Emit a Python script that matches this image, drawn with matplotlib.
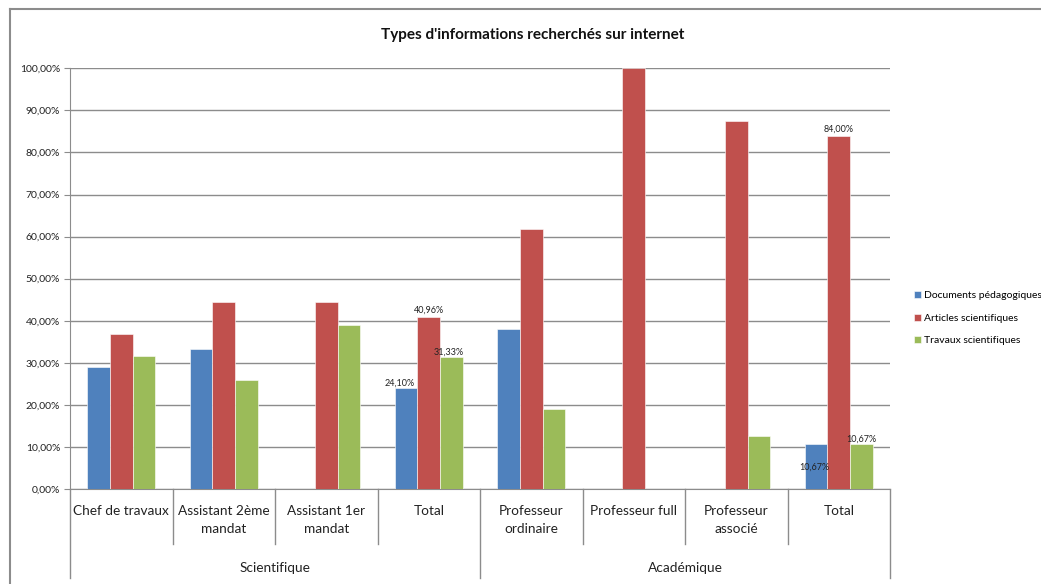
import matplotlib.pyplot as plt
from matplotlib.lines import Line2D
import numpy as np

plt.rcParams['font.family'] = ['Lato', 'DejaVu Sans']

# data
categories = ["Chef de travaux", "Assistant 2ème\nmandat", "Assistant 1er\nmandat", "Total",
              "Professeur\nordinaire", "Professeur full", "Professeur\nassocié", "Total"]
groups = ["Scientifique", "Académique"]
group_sizes = [4, 4]
series_names = ["Documents pédagogiques", "Articles scientifiques", "Travaux scientifiques"]
documents = [28.95, 33.33, 0, 24.10, 38.10, 0, 0, 10.67]
articles = [36.84, 44.44, 44.44, 40.96, 61.90, 100.0, 87.50, 84.00]
travaux = [31.58, 25.93, 38.89, 31.33, 19.05, 0, 12.50, 10.67]
colors = ["#4F81BD", "#C0504D", "#9BBB59"]

fig = plt.figure(figsize=(10.41, 5.84), dpi=100)
ax = fig.add_axes([70 / 1041, 1 - 489 / 584, 820 / 1041, 420.7 / 584])

x = np.arange(len(categories)) + 0.5
w = 0.222
all_series = [documents, articles, travaux]
bars = []
for i, vals in enumerate(all_series):
    b = ax.bar(x + (i - 1) * w, vals, width=w, color=colors[i], label=series_names[i],
               edgecolor='white', linewidth=0.4, zorder=3)
    bars.append(b)

ax.set_xlim(0, len(categories))
ax.set_ylim(0, 100)
ax.set_yticks(np.arange(0, 101, 10))
ax.set_yticklabels([("%.2f%%" % v).replace('.', ',') for v in np.arange(0, 101, 10)], fontsize=7.5, color='#222222')
ax.yaxis.grid(True, color='#8c8c8c', linewidth=1.0, zorder=0)
ax.tick_params(axis='y', length=4, color='#8c8c8c', pad=3)
ax.set_xticks([])
for s in ['top', 'right']:
    ax.spines[s].set_visible(False)
ax.spines['left'].set_color('#8c8c8c')
ax.spines['bottom'].set_color('#8c8c8c')

# data labels (only on the Total columns, as in the reference)
def lab(xv, yv, txt, dx, dy):
    ax.annotate(txt, (xv, yv), xytext=(dx, dy), textcoords='offset pixels',
                ha='center', va='bottom', fontsize=6.5, color='#222222', zorder=5)

fmt = lambda v: ("%.2f%%" % v).replace('.', ',')
lab(x[3] - w, documents[3], fmt(documents[3]), -6, 0)
lab(x[3], articles[3], fmt(articles[3]), 0, 2)
lab(x[3] + w, travaux[3], fmt(travaux[3]), -3, 1)
lab(x[7], articles[7], fmt(articles[7]), 0, 2)
lab(x[7] - w, documents[7], fmt(documents[7]), -2, -28)
lab(x[7] + w, travaux[7], fmt(travaux[7]), 0, 0)

# hierarchical category axis
tr = ax.get_xaxis_transform()
for i, c in enumerate(categories):
    ax.text(x[i], -0.038, c, transform=tr, ha='center', va='top', fontsize=9.8,
            linespacing=1.65, color='#222222')
edges = np.cumsum([0] + group_sizes)
for k in range(len(categories) + 1):
    bottom = -0.2116 if k in edges else -0.131
    ax.add_line(Line2D([k, k], [0, bottom], transform=tr, color='#8c8c8c', linewidth=1.0, clip_on=False))
for g, name in enumerate(groups):
    mid = (edges[g] + edges[g + 1]) / 2
    ax.text(mid, -0.188, name, transform=tr, ha='center', va='center', fontsize=9.8, color='#222222')

fig.text(533 / 1041, 1 - 35 / 584, "Types d'informations recherchés sur internet",
         ha='center', va='center', fontsize=11, fontweight='bold', color='#111111')

fig.legend(handles=[b for b in bars], loc='upper left', bbox_to_anchor=(905 / 1041, 1 - 282 / 584),
           frameon=False, fontsize=7.5, handlelength=0.6, handleheight=0.6, handletextpad=0.3,
           labelspacing=1.3)

# chart border (top and left only visible in the reference)
fig.add_artist(Line2D([10 / 1041, 1], [1 - 8.5 / 584] * 2, transform=fig.transFigure, color='#8c8c8c', linewidth=1.5))
fig.add_artist(Line2D([10 / 1041] * 2, [0, 1 - 8.5 / 584], transform=fig.transFigure, color='#8c8c8c', linewidth=1.5))

fig.savefig('out.png', dpi=100)
